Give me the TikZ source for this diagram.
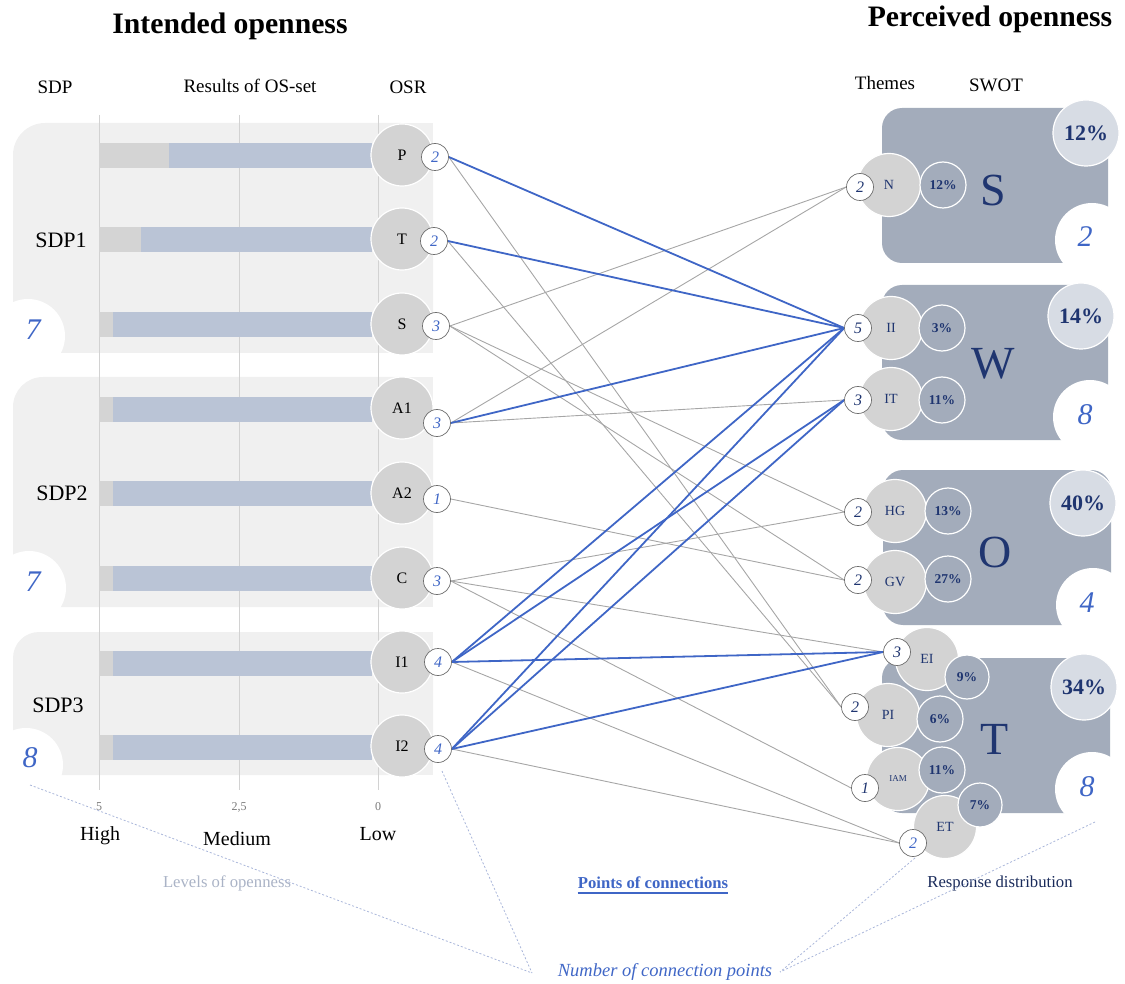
\documentclass[tikz,border=0pt]{standalone}
\usepackage{fontspec}
\setmainfont{Liberation Serif}
\usetikzlibrary{calc}

\definecolor{panelbg}{HTML}{F0F0F0}
\definecolor{bargray}{HTML}{D4D4D4}
\definecolor{barblue}{HTML}{BAC4D6}
\definecolor{gridc}{HTML}{D2D2D2}
\definecolor{osrgray}{HTML}{D3D3D3}
\definecolor{linkblue}{HTML}{3F66C6}
\definecolor{linkgray}{HTML}{A6A6A6}
\definecolor{cntgray}{HTML}{6E6E6E}
\definecolor{swotc}{HTML}{A3ACBB}
\definecolor{pctlight}{HTML}{D7DCE4}
\definecolor{navy}{HTML}{1F3570}
\definecolor{levelc}{HTML}{AAB3C6}
\definecolor{dashc}{HTML}{A9B6DA}
\definecolor{tickc}{HTML}{7A7A7A}

\newcommand\fsz[1]{\fontsize{#1}{#1}\selectfont}

% links go below everything else
\pgfdeclarelayer{links}
\pgfsetlayers{links,main}

\tikzset{
  txt/.style={inner sep=0pt, anchor=center},
  osr/.style={circle, fill=osrgray, draw=white, line width=1.2pt, minimum size=62pt, inner sep=0pt, font=\fsz{16}},
  cnt/.style={circle, fill=white, draw=cntgray, line width=0.7pt, minimum size=27pt, inner sep=0pt, font=\fsz{16}\itshape},
  theme/.style={circle, fill=osrgray, draw=white, line width=1.2pt, minimum size=63pt, inner sep=0pt, font=\fsz{14}, text=navy},
  pct/.style={circle, fill=swotc, draw=white, line width=1.2pt, minimum size=46pt, inner sep=0pt, font=\fsz{13.5}\bfseries, text=navy},
  bigpct/.style={circle, fill=pctlight, draw=white, line width=1.2pt, minimum size=66pt, inner sep=0pt, font=\fsz{22}\bfseries, text=navy},
  cutout/.style={circle, fill=white, minimum size=74pt, inner sep=0pt},
  total/.style={txt, font=\fsz{30}\itshape, text=linkblue},
  swotbox/.style={fill=swotc, rounded corners=20pt},
  blueline/.style={draw=linkblue, line width=1.8pt},
  grayline/.style={draw=linkgray, line width=0.9pt},
  guide/.style={draw=dashc, line width=0.8pt, dash pattern=on 2pt off 2pt},
  head/.style={txt, font=\fsz{19}},
}

\begin{document}
\begin{tikzpicture}[x=1pt, y=-1pt]
\useasboundingbox (0,0) rectangle (1125,984);

% ---------- titles and column headings ----------
\node[txt, font=\fsz{29.7}\bfseries] (tI) at (230,26) {Intended openness};
\node[txt, font=\fsz{29.7}\bfseries] (tP) at (990,19) {Perceived openness};
\node[head] (hSDP) at (55,87) {SDP};
\node[head] (hRes) at (250,86) {Results of OS-set};
\node[head] (hOSR) at (408,87) {OSR};
\node[head] (hThemes) at (885,83) {Themes};
\node[head] (hSWOT) at (996,85) {SWOT};

% ---------- SDP panels ----------
\foreach \t/\b/\r in {123/353/32, 377/607/30, 632/775/26} {
  \fill[panelbg, rounded corners=\r pt] (13,\t) rectangle (433,\b);
  \fill[panelbg] (100,\t) rectangle (433,\b);
  \fill[panelbg] (13,\t+40) rectangle (433,\b);
}

% axis grid
\foreach \x in {99,239,378} {
  \draw[gridc, line width=0.8pt] (\x,115) -- (\x,790);
}

% bars: gray share then blue share
\foreach \y/\g in {143/169, 227/141, 312/113, 397/113, 481/113, 566/113, 651/113, 735/113} {
  \fill[bargray] (99,\y) rectangle (\g,\y+25);
  \fill[barblue] (\g,\y) rectangle (372,\y+25);
}

% cut-outs with SDP totals
\node[cutout] (k1) at (28,336) {};
\node[cutout] (k2) at (29,588) {};
\node[cutout] (k3) at (26,765) {};
\node[total] (n1) at (33,330) {7};
\node[total] (n2) at (33,582) {7};
\node[total] (n3) at (30,758) {8};

\node[txt, font=\fsz{22}] (sdp1) at (61,240) {SDP1};
\node[txt, font=\fsz{22}] (sdp2) at (62,493) {SDP2};
\node[txt, font=\fsz{22}] (sdp3) at (58,705) {SDP3};

% OSR circles
\node[osr] (oP)  at (402,155) {P};
\node[osr] (oT)  at (402,239) {T};
\node[osr] (oS)  at (402,324) {S};
\node[osr] (oA1) at (402,408) {A1};
\node[osr] (oA2) at (402,493) {A2};
\node[osr] (oC)  at (402,578) {C};
\node[osr] (oI1) at (402,662) {I1};
\node[osr] (oI2) at (402,746) {I2};

% axis labels
\node[txt, font=\fsz{12}, text=tickc] (ax5) at (99,807) {5};
\node[txt, font=\fsz{12}, text=tickc] (ax25) at (239,807) {2,5};
\node[txt, font=\fsz{12}, text=tickc] (ax0) at (378,807) {0};
\node[txt, font=\fsz{20}] (lvH) at (100,836) {High};
\node[txt, font=\fsz{20}] (lvM) at (237,839) {Medium};
\node[txt, font=\fsz{20}] (lvL) at (378,834) {Low};

% ---------- SWOT boxes ----------
\fill[swotbox] (882,108) rectangle (1108,263);
\fill[swotbox] (882,285) rectangle (1108,440);
\fill[swotbox] (883,470) rectangle (1111,625);
\fill[swotbox] (882,658) rectangle (1110,813);

\node[bigpct] (pS) at (1086,133) {12\%};
\node[bigpct] (pW) at (1081,316) {14\%};
\node[bigpct] (pO) at (1083,503) {40\%};
\node[bigpct] (pT) at (1084,687) {34\%};

\node[cutout] (wS) at (1092,240) {};
\node[cutout] (wW) at (1090,417) {};
\node[cutout] (wO) at (1093,605) {};
\node[cutout] (wT) at (1092,789) {};
\node[total] (mS) at (1085,237) {2};
\node[total] (mW) at (1085,415) {8};
\node[total] (mO) at (1087,603) {4};
\node[total] (mT) at (1087,787) {8};

\node[txt, font=\fsz{46}, text=navy] (lS) at (993,190) {S};
\node[txt, font=\fsz{46}, text=navy] (lW) at (993,364) {W};
\node[txt, font=\fsz{46}, text=navy] (lO) at (995,552) {O};
\node[txt, font=\fsz{46}, text=navy] (lT) at (995,739) {T};

% themes with their shares
\node[theme] (tN)  at (889,185) {N};
\node[pct]   (qN)  at (943,185) {12\%};
\node[theme] (tII) at (891,328) {II};
\node[pct]   (qII) at (942,328) {3\%};
\node[theme] (tIT) at (891,399) {IT};
\node[pct]   (qIT) at (942,400) {11\%};
\node[theme] (tHG) at (895,511) {HG};
\node[pct]   (qHG) at (948,511) {13\%};
\node[theme] (tGV) at (895,582) {GV};
\node[pct]   (qGV) at (948,579) {27\%};
\node[theme] (tEI) at (927,659) {EI};
\node[pct, minimum size=44pt] (qEI) at (967,677) {9\%};
\node[theme] (tPI) at (888,715) {PI};
\node[pct]   (qPI) at (940,719) {6\%};
\node[theme, font=\fsz{9}] (tIAM) at (898,779) {IAM};
\node[pct]   (qIAM) at (942,770) {11\%};
\node[theme] (tET) at (945,827) {ET};
\node[pct, minimum size=44pt] (qET) at (980,805) {7\%};

% ---------- connection counts ----------
\begin{scope}[every node/.append style={text=linkblue}]
\node[cnt] (cP)  at (435,157) {2};
\node[cnt] (cT)  at (434,241) {2};
\node[cnt] (cS)  at (436,326) {3};
\node[cnt] (cA1) at (437,423) {3};
\node[cnt] (cA2) at (437,499) {1};
\node[cnt] (cC)  at (437,581) {3};
\node[cnt] (cI1) at (438,662) {4};
\node[cnt] (cI2) at (438,749) {4};
\end{scope}
\begin{scope}[every node/.append style={text=navy}]
\node[cnt] (rN)   at (860,187) {2};
\node[cnt] (rII)  at (858,328) {5};
\node[cnt] (rIT)  at (858,400) {3};
\node[cnt] (rHG)  at (858,512) {2};
\node[cnt] (rGV)  at (858,580) {2};
\node[cnt] (rEI)  at (897,652) {3};
\node[cnt] (rPI)  at (855,707) {2};
\node[cnt] (rIAM) at (865,788) {1};
\node[cnt, text=linkblue] (rET) at (913,843) {2};
\end{scope}

% ---------- links ----------
\begin{pgfonlayer}{links}
\foreach \a/\b in {cP/rPI, cT/rPI, cS/rN, cS/rHG, cS/rGV, cA1/rN, cA1/rIT, cA2/rGV,
                   cC/rHG, cC/rEI, cC/rIAM, cI1/rET, cI2/rET} {
  \draw[grayline] (\a.east) -- (\b.west);
}
\foreach \a/\b in {cP/rII, cT/rII, cA1/rII, cI1/rII, cI2/rII, cI1/rIT, cI2/rIT, cI1/rEI, cI2/rEI} {
  \draw[blueline] (\a.east) -- (\b.west);
}
\end{pgfonlayer}

% ---------- legend ----------
\node[txt, font=\fsz{16.7}, text=levelc] (lev) at (227,883) {Levels of openness};
\node[txt, font=\fsz{16.7}\bfseries, text=linkblue] (poc) at (653,883) {Points of connections};
\draw[linkblue, line width=1.4pt] ([yshift=-4pt]poc.south west) -- ([yshift=-4pt]poc.south east);
\node[txt, font=\fsz{16.7}, text=navy!80!black] (resp) at (1000,883) {Response distribution};
\node[txt, font=\fsz{18.5}\itshape, text=linkblue] (ncp) at (665,972) {Number of connection points};

\coordinate (gL1) at (30,785);
\coordinate (gL2) at (442,771);
\coordinate (gLa) at (532,973);
\coordinate (gR1) at (915,858);
\coordinate (gR2) at (1095,822);
\coordinate (gRa) at (780,972);
\draw[guide] (gL1) -- (gLa);
\draw[guide] (gL2) -- (gLa);
\draw[guide] (gR1) -- (gRa);
\draw[guide] (gR2) -- (gRa);

\end{tikzpicture}
\end{document}
